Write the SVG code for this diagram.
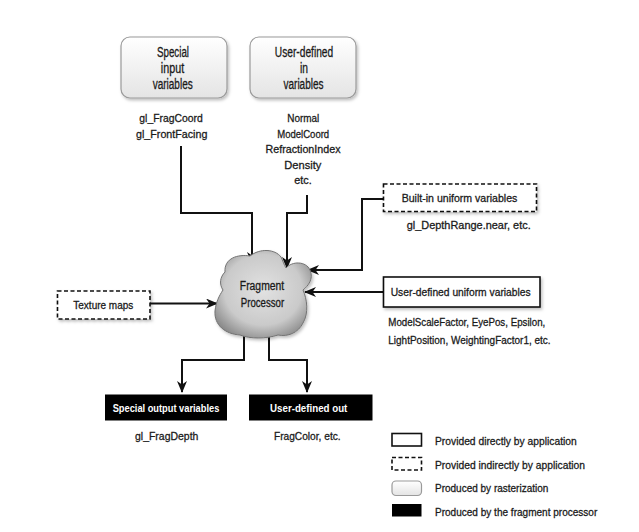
<svg xmlns="http://www.w3.org/2000/svg" width="639" height="532" viewBox="0 0 639 532">
  <defs>
    <linearGradient id="raster" x1="0" y1="0" x2="0" y2="1">
      <stop offset="0" stop-color="#ffffff"/>
      <stop offset="1" stop-color="#e4e4e4"/>
    </linearGradient>
    <radialGradient id="blobFill" cx="0.5" cy="0.45" r="0.62">
      <stop offset="0" stop-color="#e2e2e2"/>
      <stop offset="0.65" stop-color="#cacaca"/>
      <stop offset="1" stop-color="#858585"/>
    </radialGradient>
    <filter id="shadow" x="-10%" y="-10%" width="130%" height="140%">
      <feDropShadow dx="1.5" dy="2" stdDeviation="1.5" flood-color="#000" flood-opacity="0.25"/>
    </filter>
    <marker id="arrow" viewBox="0 0 12 10" refX="11" refY="5" markerWidth="12" markerHeight="10" markerUnits="userSpaceOnUse" orient="auto">
      <path d="M0,0 L12,5 L0,10 L3.5,5 Z" fill="#111"/>
    </marker>
    <style>
      text { font-family: "Liberation Sans", Arial, sans-serif; fill: #1a1a1a; stroke: #1a1a1a; stroke-width: 0.3; }
      .t { font-size: 11.5px; }
      .big { font-size: 14px; }
      .mid { text-anchor: middle; }
      .inv { font-size: 11.5px; font-weight: bold; fill: #ffffff; stroke: none; }
      .raster { fill: url(#raster); stroke: #9a9a9a; stroke-width: 1.2; }
      .direct { fill: #ffffff; stroke: #111; stroke-width: 1.6; }
      .indirect { fill: #ffffff; stroke: #111; stroke-width: 1.6; stroke-dasharray: 4 2.5; }
      .produced { fill: #000; }
      .wire { fill: none; stroke: #111; stroke-width: 2; marker-end: url(#arrow); }
    </style>
  </defs>

  <rect width="639" height="532" fill="#ffffff"/>

  <!-- connectors -->
  <g id="connectors">
    <path class="wire" d="M181,146 V213 H252 V263"/>
    <path class="wire" d="M307,195 V213 H287 V268"/>
    <path class="wire" d="M383,199 H362 V270 H308"/>
    <path class="wire" d="M383,292 H305"/>
    <path class="wire" d="M150,303.5 H217"/>
    <path class="wire" d="M244,325 V360 H182 V392"/>
    <path class="wire" d="M269,325 V360 H307 V392"/>
  </g>

  <!-- inputs from rasterization -->
  <g id="special-input">
    <rect class="raster" x="121" y="37" width="106" height="61" rx="9" filter="url(#shadow)"/>
    <text class="big mid" x="173" y="57" textLength="32" lengthAdjust="spacingAndGlyphs">Special</text>
    <text class="big mid" x="172.5" y="73" textLength="23.3" lengthAdjust="spacingAndGlyphs">input</text>
    <text class="big mid" x="172.7" y="89" textLength="40" lengthAdjust="spacingAndGlyphs">variables</text>
    <text class="t mid" x="171" y="122" textLength="63.3" lengthAdjust="spacingAndGlyphs">gl_FragCoord</text>
    <text class="t mid" x="171.7" y="137.5" textLength="71.3" lengthAdjust="spacingAndGlyphs">gl_FrontFacing</text>
  </g>

  <g id="user-in">
    <rect class="raster" x="250" y="37" width="106" height="61" rx="9" filter="url(#shadow)"/>
    <text class="big mid" x="304" y="57" textLength="58.3" lengthAdjust="spacingAndGlyphs">User-defined</text>
    <text class="big mid" x="304" y="73" textLength="8" lengthAdjust="spacingAndGlyphs">in</text>
    <text class="big mid" x="303.5" y="89" textLength="40" lengthAdjust="spacingAndGlyphs">variables</text>
    <text class="t mid" x="303.3" y="122" textLength="32" lengthAdjust="spacingAndGlyphs">Normal</text>
    <text class="t mid" x="303.2" y="137.5" textLength="52" lengthAdjust="spacingAndGlyphs">ModelCoord</text>
    <text class="t mid" x="303" y="153" textLength="75" lengthAdjust="spacingAndGlyphs">RefractionIndex</text>
    <text class="t mid" x="302.8" y="168.5" textLength="37" lengthAdjust="spacingAndGlyphs">Density</text>
    <text class="t mid" x="303" y="184" textLength="17.5" lengthAdjust="spacingAndGlyphs">etc.</text>
  </g>

  <!-- uniforms -->
  <g id="builtin-uniform">
    <rect class="indirect" x="383.5" y="184" width="153" height="27.5" filter="url(#shadow)"/>
    <text class="t mid" x="459.5" y="202" textLength="115.7" lengthAdjust="spacingAndGlyphs">Built-in uniform variables</text>
    <text class="t mid" x="468.7" y="229" textLength="124" lengthAdjust="spacingAndGlyphs">gl_DepthRange.near, etc.</text>
  </g>

  <g id="user-uniform">
    <rect class="direct" x="383.5" y="277" width="156.5" height="30" filter="url(#shadow)"/>
    <text class="t mid" x="460.7" y="296" textLength="140" lengthAdjust="spacingAndGlyphs">User-defined uniform variables</text>
    <text class="t" x="388.3" y="326" textLength="157" lengthAdjust="spacingAndGlyphs">ModelScaleFactor, EyePos, Epsilon,</text>
    <text class="t" x="388.3" y="344" textLength="162.3" lengthAdjust="spacingAndGlyphs">LightPosition, WeightingFactor1, etc.</text>
  </g>

  <g id="texture-maps">
    <rect class="indirect" x="57.5" y="291" width="92.5" height="28" filter="url(#shadow)"/>
    <text class="t mid" x="103.3" y="308.5" textLength="60" lengthAdjust="spacingAndGlyphs">Texture maps</text>
  </g>

  <!-- fragment processor -->
  <g id="fragment-processor">
    <path d="M225,272 C224,258 238,254 250,256 C260,248 275,249 281,257 C283,261 284,265 286,268 C292,261 306,261 310,270 C314,279 308,286 303,290 C307,299 309,313 303,323 C298,333 288,337 278,335 C266,339 250,339 240,335 C225,334 214,325 215,311 C216,302 219,296 223,290 C219,284 220,277 225,272 Z" fill="url(#blobFill)" stroke="#737373" stroke-width="1" filter="url(#shadow)"/>
    <text class="mid" x="262" y="290" font-size="12" textLength="44.3" lengthAdjust="spacingAndGlyphs">Fragment</text>
    <text class="mid" x="262.5" y="307" font-size="12" textLength="43.3" lengthAdjust="spacingAndGlyphs">Processor</text>
  </g>

  <!-- outputs -->
  <g id="special-output">
    <rect class="produced" x="105" y="394.5" width="122" height="26"/>
    <text class="inv mid" x="166" y="411.5" textLength="106.7" lengthAdjust="spacingAndGlyphs">Special output variables</text>
    <text class="t mid" x="166.7" y="440" textLength="63.3" lengthAdjust="spacingAndGlyphs">gl_FragDepth</text>
  </g>

  <g id="user-out">
    <rect class="produced" x="249" y="394.5" width="123.5" height="26"/>
    <text class="inv mid" x="308.7" y="411.5" textLength="77.3" lengthAdjust="spacingAndGlyphs">User-defined out</text>
    <text class="t mid" x="307.3" y="439.5" textLength="66.7" lengthAdjust="spacingAndGlyphs">FragColor, etc.</text>
  </g>

  <!-- legend -->
  <g id="legend">
    <rect class="direct" x="392" y="433.5" width="29.5" height="12.5" stroke-width="1.2"/>
    <text class="t" x="435" y="445" textLength="141.7" lengthAdjust="spacingAndGlyphs">Provided directly by application</text>
    <rect class="indirect" x="392" y="457.5" width="29.5" height="12.5" stroke-width="1.2" stroke-dasharray="3 2"/>
    <text class="t" x="435" y="468.5" textLength="150" lengthAdjust="spacingAndGlyphs">Provided indirectly by application</text>
    <rect class="raster" x="392" y="481" width="29.5" height="14.5" rx="4"/>
    <text class="t" x="435" y="492" textLength="113.3" lengthAdjust="spacingAndGlyphs">Produced by rasterization</text>
    <rect class="produced" x="392" y="504" width="29.5" height="12.5"/>
    <text class="t" x="435" y="515.5" textLength="162.3" lengthAdjust="spacingAndGlyphs">Produced by the fragment processor</text>
  </g>
</svg>
